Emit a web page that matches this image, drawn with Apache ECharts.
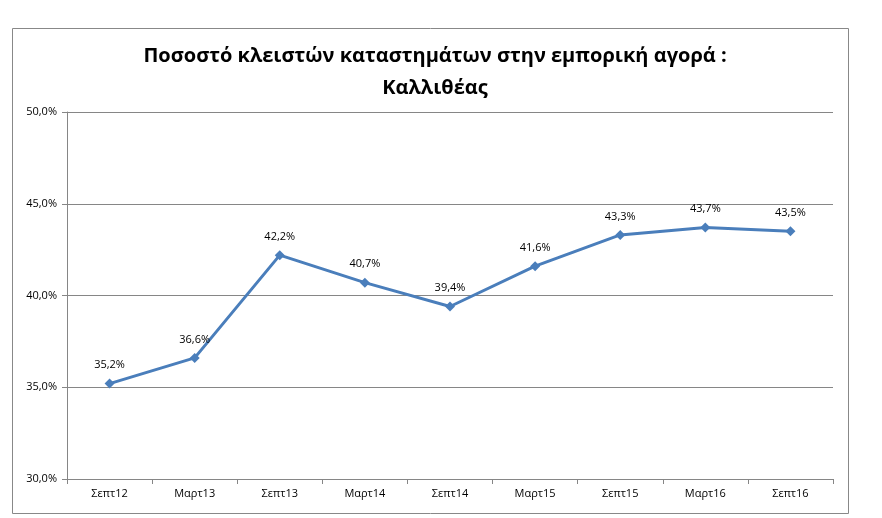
<!DOCTYPE html>
<html>
<head>
<meta charset="utf-8">
<script src="https://cdn.jsdelivr.net/npm/echarts@6/dist/echarts.min.js"></script>
<style>
html, body { margin: 0; padding: 0; background: #fff; }
#chart { width: 882px; height: 518px; }
</style>
</head>
<body>
<div id="chart"></div>
<script>
// data
var categories = ['Σεπτ12', 'Μαρτ13', 'Σεπτ13', 'Μαρτ14', 'Σεπτ14', 'Μαρτ15', 'Σεπτ15', 'Μαρτ16', 'Σεπτ16'];
var closedShare = [35.2, 36.6, 42.2, 40.7, 39.4, 41.6, 43.3, 43.7, 43.5];
var yTicks = [30, 35, 40, 45, 50];

function pct(v) {
    return v.toFixed(1).replace('.', ',') + '%';
}

var chart = echarts.init(document.getElementById('chart'));
var option = {
    animation: false,
    backgroundColor: '#fff',
    title: {
        text: 'Ποσοστό κλειστών καταστημάτων στην εμπορική αγορά :\nΚαλλιθέας',
        left: 430,
        textAlign: 'center',
        top: 35,
        textStyle: {
            fontFamily: 'Open Sans',
            fontWeight: 'bold',
            fontSize: 20,
            lineHeight: 32,
            color: '#000'
        }
    },
    graphic: [{
        type: 'rect',
        shape: { x: 12.5, y: 28.5, width: 836, height: 485 },
        style: { fill: 'none', stroke: '#888', lineWidth: 1 },
        silent: true
    }],
    grid: { left: 67, right: 49, top: 112, bottom: 39 },
    xAxis: {
        type: 'category',
        data: categories,
        boundaryGap: true,
        axisLine: { lineStyle: { color: '#868686', width: 1 } },
        axisTick: { show: true, length: 5, lineStyle: { color: '#868686' } },
        axisLabel: { color: '#000', fontFamily: 'Open Sans', fontSize: 11, margin: 9 }
    },
    yAxis: {
        type: 'value',
        min: yTicks[0],
        max: yTicks[yTicks.length - 1],
        interval: 5,
        axisLine: { show: true, lineStyle: { color: '#868686', width: 1 } },
        axisTick: { show: true, length: 5, lineStyle: { color: '#868686' } },
        splitLine: { show: true, lineStyle: { color: '#868686', width: 1 } },
        axisLabel: {
            color: '#000', fontFamily: 'Open Sans', fontSize: 11, margin: 10,
            formatter: function (v) { return pct(v); }
        }
    },
    series: [{
        type: 'line',
        data: closedShare,
        symbol: 'diamond',
        symbolSize: 10,
        lineStyle: { color: '#4a7ebb', width: 3 },
        itemStyle: { color: '#4a7ebb' },
        label: {
            show: true,
            position: 'top',
            distance: 8,
            color: '#000',
            fontFamily: 'Open Sans',
            fontSize: 11,
            formatter: function (p) { return pct(p.value); }
        }
    }]
};
chart.setOption(option);
</script>
</body>
</html>
